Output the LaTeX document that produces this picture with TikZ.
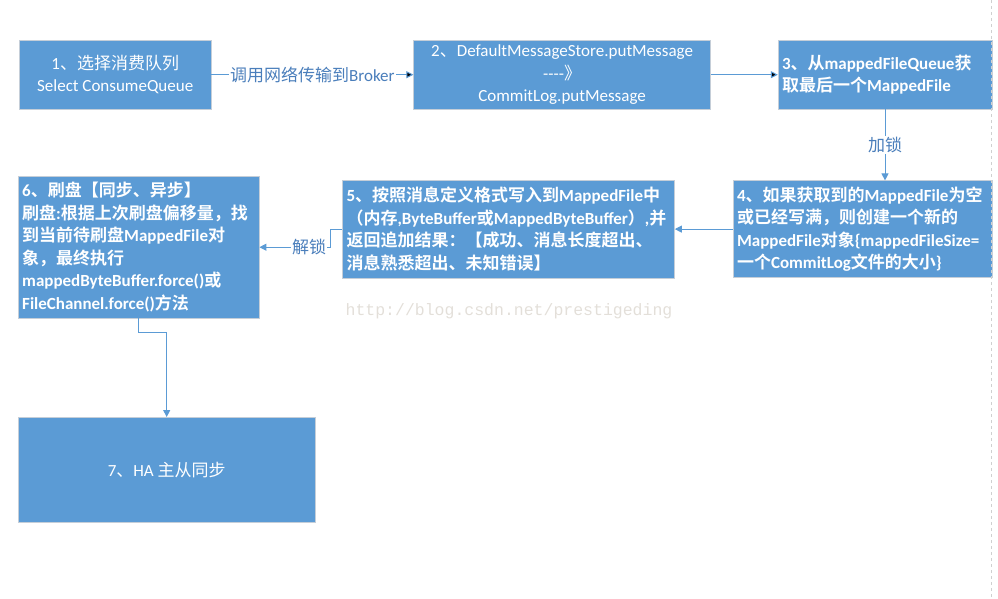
\documentclass[tikz,border=0pt]{standalone}
\usepackage{fontspec}
\setmainfont{Carlito}
\newfontfamily\latinfont{Carlito}
\newfontfamily\cjkfont{Noto Sans CJK SC}[BoldFont={Noto Sans CJK SC Bold}]
\newfontfamily\urlfont{Liberation Mono}
\usepackage{tikz}
\usetikzlibrary{arrows.meta,positioning}

% chinese characters are set in the CJK font
\XeTeXinterchartokenstate=1
\newXeTeXintercharclass\cjkclass
\newcount\cjkcode
\def\setcjkrange#1#2{\cjkcode=#1 \loop\ifnum\cjkcode<#2 \XeTeXcharclass\cjkcode=\cjkclass \advance\cjkcode by 1 \repeat}
\setcjkrange{"3000}{"3040}
\setcjkrange{"4E00}{"A000}
\setcjkrange{"FF00}{"FFF0}
\XeTeXinterchartoks 0 \cjkclass = {\cjkfont}
\XeTeXinterchartoks 4095 \cjkclass = {\cjkfont}
\XeTeXinterchartoks \cjkclass 0 = {\latinfont}
\XeTeXinterchartoks \cjkclass 4095 = {\latinfont}

\definecolor{boxblue}{HTML}{5B9BD5}
\definecolor{boxedge}{HTML}{C5CED8}
\definecolor{lbltext}{HTML}{4A7EBB}
\definecolor{urlgray}{HTML}{E3DFD9}
\definecolor{pagegray}{HTML}{D0D0D0}

\begin{document}
\begin{tikzpicture}[x=1pt, y=1pt,
                >={Triangle[length=7pt,width=7pt]},
                every node/.append style={font=\fontsize{17}{22.5}\selectfont},
                box/.style={draw=boxedge, fill=boxblue, text=white, inner xsep=4pt, inner ysep=0pt, align=center},
                leftbox/.style={box, align=left, text width=#1, font=\fontsize{17}{22.5}\selectfont\bfseries},
                line/.style={draw=boxblue, line width=1pt},
                lbl/.style={fill=white, text=lbltext, inner sep=1pt}]

\useasboundingbox (0,0) rectangle (998,-598);

\node[box, anchor=north west, minimum width=192pt, minimum height=69pt] (sel) at (19,-40) {1、选择消费队列\\Select ConsumeQueue};
\node[box, right=202pt of sel, minimum width=297pt, minimum height=69pt] (put) {2、DefaultMessageStore.putMessage\\-{}-{}-{}-》\\CommitLog.putMessage};
\node[leftbox=206pt, right=67pt of put, minimum width=214pt, minimum height=69pt] (get) {3、从mappedFileQueue获\\取最后一个MappedFile};
\node[leftbox=251pt, below=71pt of get.south east, anchor=north east, minimum width=259pt, minimum height=97pt] (create) {4、如果获取到的MappedFile为空\\或已经写满，则创建一个新的\\MappedFile对象\{mappedFileSize=\\一个CommitLog文件的大小\}};
\node[leftbox=324pt, left=58pt of create, minimum width=332pt, minimum height=98pt] (write) {5、按照消息定义格式写入到MappedFile中\\（内存,ByteBuffer或MappedByteBuffer）,并\\返回追加结果：【成功、消息长度超出、\\消息熟悉超出、未知错误】};
\node[leftbox=233pt, anchor=north west, minimum width=241pt, minimum height=142pt] (flush) at (18,-176) {6、刷盘【同步、异步】\\刷盘:根据上次刷盘偏移量，找\\到当前待刷盘MappedFile对\\象，最终执行\\mappedByteBuffer.force()或\\FileChannel.force()方法};
\node[box, anchor=north west, minimum width=297pt, minimum height=105pt] (ha) at (18,-417) {7、HA 主从同步};

\path[->, line] (sel) edge node[lbl] {调用网络传输到Broker} (put)
    (put) edge (get);
\draw[->, line] (get.south) -- node[lbl] {加锁} (get.south |- create.north);
\draw[->, line] (create.west) -- (create.west -| write.east);
\draw[->, line] (write.west) -- ++(-12,0) |- node[lbl, pos=0.65] {解锁} (flush.east);
\draw[->, line] (flush.south) -- ++(0,-14) -| (ha.north);

\node[text=urlgray, font=\urlfont\fontsize{16.5}{20}\selectfont] (url) at (509,-311) {http://blog.csdn.net/prestigeding};
\draw[pagegray, dashed] (991,0) -- (991,-598);

\end{tikzpicture}
\end{document}
